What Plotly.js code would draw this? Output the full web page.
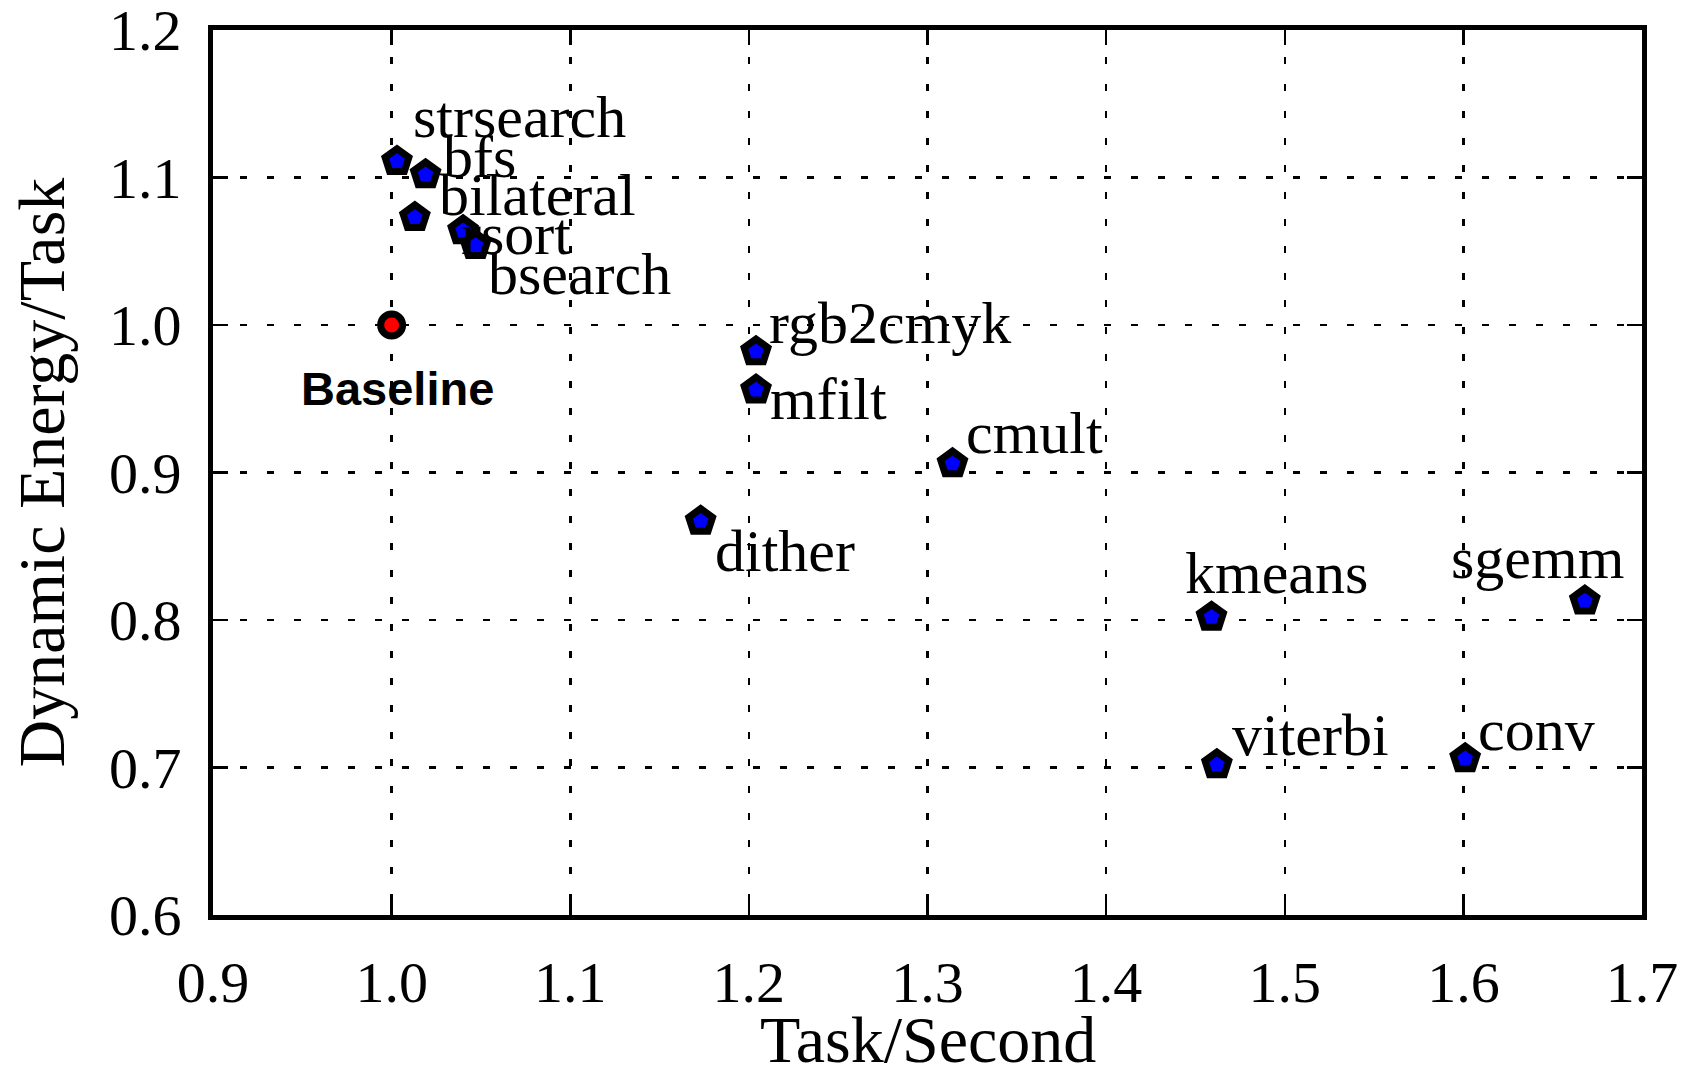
<!DOCTYPE html>
<html>
<head>
<meta charset="utf-8">
<script src="https://cdn.plot.ly/plotly-3.0.1.min.js"></script>
<style>html,body{margin:0;padding:0;background:#fff;}#chart{width:1695px;height:1071px;}</style>
</head>
<body>
<div id="chart"></div>
<script>
const names = ["strsearch","bfs","bilateral","rsort","bsearch","rgb2cmyk","mfilt","cmult","dither","kmeans","sgemm","viterbi","conv"];
const taskPerSecond = [1.003, 1.019, 1.013, 1.040, 1.047, 1.204, 1.204, 1.314, 1.173, 1.459, 1.668, 1.462, 1.601];
const energyPerTask = [1.111, 1.102, 1.073, 1.064, 1.054, 0.982, 0.956, 0.906, 0.867, 0.802, 0.813, 0.702, 0.706];
const baselineX = [1.0];
const baselineY = [1.0];
const baselineLabel = "Baseline";
const xTitle = "Task/Second";
const yTitle = "Dynamic Energy/Task";
const xTicks = [0.9, 1.0, 1.1, 1.2, 1.3, 1.4, 1.5, 1.6, 1.7];
const yTicks = [0.6, 0.7, 0.8, 0.9, 1.0, 1.1, 1.2];

// label offsets in pixels (style, not data)
const labelShift = {
  strsearch: [14, 44], bfs: [15, 18], bilateral: [22, 22], rsort: [-4, -3],
  bsearch: [10, -29], rgb2cmyk: [11, 29], mfilt: [12, -9], cmult: [11, 31],
  dither: [12, -30], kmeans: [-29, 44], sgemm: [-136, 43], viterbi: [13, 30], conv: [11, 29]
};

const serif = "Liberation Serif, Times New Roman, serif";

const traces = [
  {
    x: taskPerSecond, y: energyPerTask, type: "scatter", mode: "markers",
    marker: {symbol: "pentagon", size: 25, color: "#0000ff", line: {color: "#000", width: 7}},
    hoverinfo: "skip", showlegend: false
  },
  {
    x: baselineX, y: baselineY, type: "scatter", mode: "markers",
    marker: {symbol: "circle", size: 22, color: "#ff0000", line: {color: "#000", width: 7}},
    hoverinfo: "skip", showlegend: false
  }
];

const annotations = names.map((n, i) => ({
  x: taskPerSecond[i], y: energyPerTask[i], xref: "x", yref: "y",
  text: n, showarrow: false, xanchor: "left", yanchor: "middle",
  xshift: labelShift[n][0], yshift: labelShift[n][1],
  font: {family: serif, size: 60, color: "#000"}
}));
annotations.push({
  x: baselineX[0], y: baselineY[0], xref: "x", yref: "y",
  text: "<b>" + baselineLabel + "</b>", showarrow: false, xanchor: "center", yanchor: "middle",
  xshift: 6, yshift: -63,
  font: {family: "Liberation Sans, Arial, sans-serif", size: 47, color: "#000"}
});
// axis titles
annotations.push({
  x: 0.5, y: 0, xref: "paper", yref: "paper", text: xTitle, showarrow: false,
  xanchor: "center", yanchor: "middle", yshift: -124,
  font: {family: serif, size: 66, color: "#000"}
});
annotations.push({
  x: 0, y: 0.5, xref: "paper", yref: "paper", text: yTitle, showarrow: false,
  xanchor: "center", yanchor: "middle", xshift: -172, textangle: -90,
  font: {family: serif, size: 66, color: "#000"}
});

const axisCommon = {
  showline: true, linecolor: "#000", linewidth: 5, mirror: "ticks",
  ticks: "inside", ticklen: 15, tickwidth: 2.5, tickcolor: "#000",
  showgrid: true, gridcolor: "#000", gridwidth: 2.5, griddash: "7px,20px",
  zeroline: false, ticklabeloverflow: "allow",
  tickfont: {family: serif, size: 58, color: "#000"}
};

const layout = {
  width: 1695, height: 1071,
  margin: {l: 213, r: 53, t: 30, b: 156},
  paper_bgcolor: "#fff", plot_bgcolor: "#fff",
  xaxis: Object.assign({}, axisCommon, {
    range: [0.9, 1.7], tickvals: xTicks, ticktext: xTicks.map(v => v.toFixed(1)),
    ticklabelstandoff: 12
  }),
  yaxis: Object.assign({}, axisCommon, {
    range: [0.6, 1.2], tickvals: yTicks, ticktext: yTicks.map(v => v.toFixed(1)),
    ticklabelstandoff: 15
  }),
  annotations: annotations
};

Plotly.newPlot("chart", traces, layout, {staticPlot: true, displayModeBar: false});
</script>
</body>
</html>
